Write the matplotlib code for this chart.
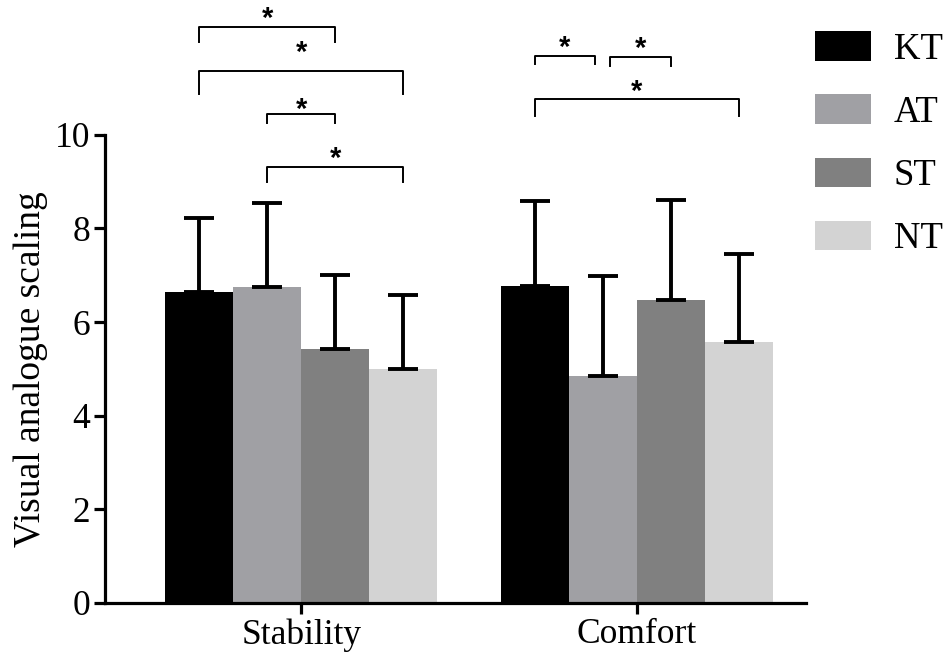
import numpy as np
import matplotlib.pyplot as plt

groups = ['Stability', 'Comfort']
conditions = ['KT', 'AT', 'ST', 'NT']
colors = ['#000000', '#a0a0a4', '#808080', '#d3d3d3']

# mean and upper error (SD) per condition, one value per group
means = {
    'KT': [6.65, 6.77],
    'AT': [6.75, 4.85],
    'ST': [5.43, 6.48],
    'NT': [5.00, 5.58],
}
errs = {
    'KT': [1.58, 1.82],
    'AT': [1.80, 2.14],
    'ST': [1.58, 2.13],
    'NT': [1.58, 1.88],
}

# significance brackets: group, bar i, bar j, height, tick drop, star height, trims
brackets = [
    (0, 0, 2, 12.31, 0.34, 12.60, 0.0, 0.0),
    (0, 0, 3, 11.37, 0.49, 11.88, 0.0, 0.0),
    (0, 1, 2, 10.45, 0.21, 10.66, 0.0, 0.0),
    (0, 1, 3, 9.32, 0.32, 9.62, 0.0, 0.0),
    (1, 0, 1, 11.69, 0.17, 11.98, 0.0, 0.024),
    (1, 1, 2, 11.65, 0.18, 11.96, 0.021, 0.0),
    (1, 0, 3, 10.77, 0.36, 11.04, 0.0, 0.0),
]

serif = ['Liberation Serif', 'DejaVu Serif']

fig = plt.figure(figsize=(9.5, 6.67), dpi=100)
ax = fig.add_axes([0.111, 0.096, 0.737, 0.702])

x = np.arange(len(groups))
width = 0.2024
offsets = (np.arange(len(conditions)) - 1.5) * width

for k, cond in enumerate(conditions):
    xs = x + offsets[k]
    ax.bar(xs, means[cond], width=width, color=colors[k], label=cond,
           edgecolor='none', zorder=2)
    ax.errorbar(xs, means[cond], yerr=[np.zeros(len(groups)), errs[cond]],
                fmt='none', ecolor='black', elinewidth=2.8, capsize=11,
                capthick=2.8, zorder=3)

for g, i, j, h, drop, sy, tl, tr in brackets:
    x1 = x[g] + offsets[i] + tl
    x2 = x[g] + offsets[j] - tr
    ax.plot([x1, x1, x2, x2], [h - drop, h, h, h - drop], color='black',
            lw=1.4, clip_on=False, zorder=4)
    # the asterisk sits high in its box, so pull it down a little
    ax.annotate('*', xy=((x1 + x2) / 2, sy), xytext=(0, -4.5),
                textcoords='offset points', ha='center', va='center',
                fontsize=21, fontweight='bold',
                family=['Liberation Sans', 'DejaVu Sans'], annotation_clip=False)

ax.set_xlim(-0.583, 1.503)
ax.set_ylim(0, 10)
ax.set_yticks([0, 2, 4, 6, 8, 10])
ax.set_xticks(x)
ax.set_xticklabels(groups)
ax.set_ylabel('Visual analogue scaling', family=serif, fontsize=27, labelpad=5)

for lab in ax.get_xticklabels() + ax.get_yticklabels():
    lab.set_family(serif)
    lab.set_fontsize(25.5)

ax.spines['top'].set_visible(False)
ax.spines['right'].set_visible(False)
ax.spines['left'].set_linewidth(2.3)
ax.spines['bottom'].set_linewidth(2.3)
ax.tick_params(width=2.3, length=8, direction='out', pad=3)

ax.legend(loc='upper left', bbox_to_anchor=(0.992, 1.252), frameon=False,
          prop={'family': serif, 'size': 26.5}, handlelength=1.53,
          handleheight=0.85, labelspacing=0.75, handletextpad=0.62,
          borderaxespad=0)

fig.savefig('out.png', dpi=100)
